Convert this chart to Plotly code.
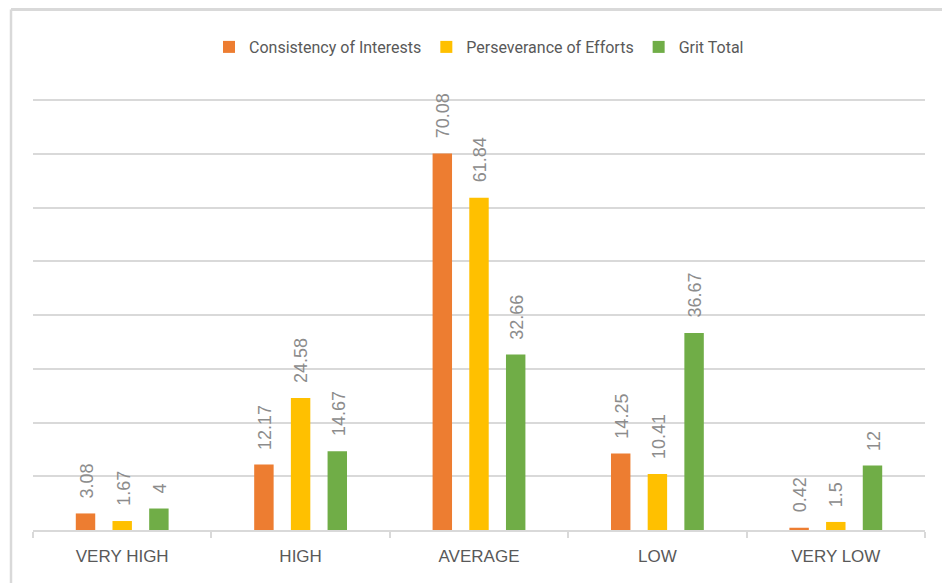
import plotly.graph_objects as go

categories = ["VERY HIGH", "HIGH", "AVERAGE", "LOW", "VERY LOW"]
series_names = ["Consistency of Interests", "Perseverance of Efforts", "Grit Total"]
consistency = [3.08, 12.17, 70.08, 14.25, 0.42]
perseverance = [1.67, 24.58, 61.84, 10.41, 1.5]
grit_total = [4, 14.67, 32.66, 36.67, 12]
label_texts = [
    ["3.08", "12.17", "70.08", "14.25", "0.42"],
    ["1.67", "24.58", "61.84", "10.41", "1.5"],
    ["4", "14.67", "32.66", "36.67", "12"],
]
colors = ["#ED7D31", "#FFC000", "#70AD47"]

W, H = 942, 583
ML, MR, MT, MB = 33, 17, 98, 53
Y_MAX = 80.4
BARGAP = 0.383
GROUPGAP = 0.47

fig = go.Figure()
all_vals = [consistency, perseverance, grit_total]
for name, vals, col in zip(series_names, all_vals, colors):
    fig.add_trace(go.Bar(x=categories, y=vals, name=name, marker=dict(color=col, line=dict(width=0))))

plot_w = W - ML - MR
cat_w = plot_w / len(categories)
slot = cat_w * (1 - BARGAP) / len(series_names)
annotations = []
for i, (vals, txts) in enumerate(zip(all_vals, label_texts)):
    off = (i - (len(series_names) - 1) / 2) * slot
    for c, v, t in zip(categories, vals, txts):
        annotations.append(dict(
            x=c, y=v, xref="x", yref="y", text=t, showarrow=False,
            textangle=-90, xanchor="center", yanchor="bottom",
            xshift=off + 1, yshift=13,
            font=dict(family="Liberation Sans, Arial, sans-serif", size=18, color="#8C8C8C"),
        ))

# outer frame lines (top and left), in paper coordinates
plot_h = H - MT - MB
fx = (11 - ML) / plot_w
fy = (H - MB - 9.5) / plot_h
shapes = [
    dict(type="line", xref="paper", yref="paper", x0=fx, x1=fx, y0=-0.2, y1=fy,
         line=dict(color="#D9D9D9", width=2.5)),
    dict(type="line", xref="paper", yref="paper", x0=fx, x1=1.1, y0=fy, y1=fy,
         line=dict(color="#D9D9D9", width=3)),
]

fig.update_layout(
    width=W, height=H,
    margin=dict(l=ML, r=MR, t=MT, b=MB),
    paper_bgcolor="white", plot_bgcolor="white",
    barmode="group", bargap=BARGAP, bargroupgap=GROUPGAP,
    font=dict(family="Roboto, sans-serif", color="#595959"),
    legend=dict(orientation="h", x=0.5, xanchor="center", y=(H - MB - 47) / plot_h, yanchor="middle",
                font=dict(size=16, color="#595959"), itemwidth=30, traceorder="normal"),
    xaxis=dict(showline=True, linecolor="#D9D9D9", linewidth=1.5,
               ticks="outside", tickson="boundaries", ticklen=6, tickcolor="#D9D9D9", tickwidth=1.5,
               tickfont=dict(family="Liberation Sans, Arial, sans-serif", size=17, color="#595959"),
               ticklabelstandoff=10),
    yaxis=dict(range=[0, Y_MAX], dtick=10, showgrid=True, gridcolor="#D9D9D9", gridwidth=2,
               showticklabels=False, zeroline=False, showline=False),
    annotations=annotations,
    shapes=shapes,
)

fig.write_html("out.html")
